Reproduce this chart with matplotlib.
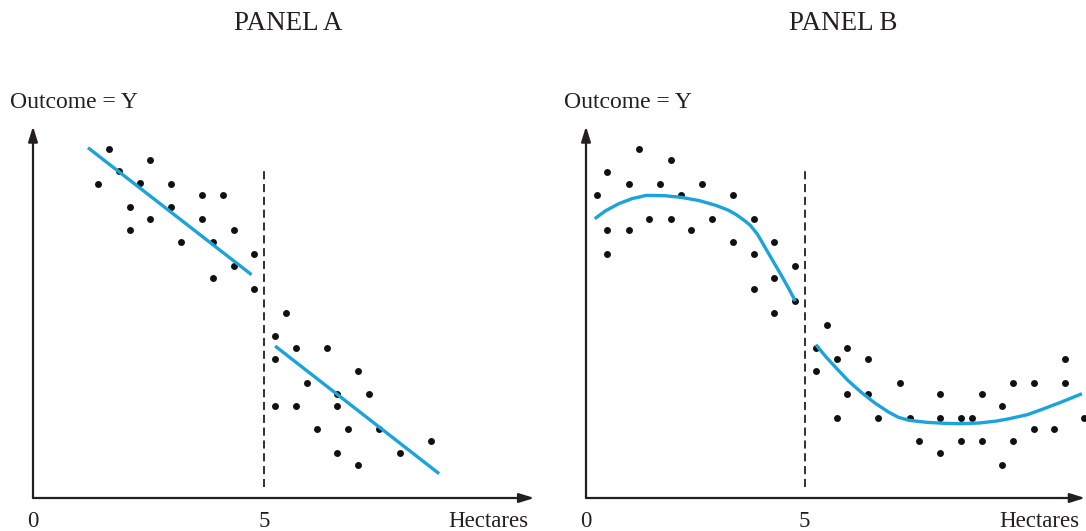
import matplotlib
matplotlib.use("Agg")
import matplotlib.pyplot as plt

plt.rcParams['font.family'] = ['Liberation Serif', 'DejaVu Serif']

# ---------------- data ----------------
titles = ["PANEL A", "PANEL B"]
y_label = "Outcome = Y"
x_label = "Hectares"
x_ticks = [0, 5]
cutoff = 5

# Panel A scatter (left / right of cutoff)
a_left_x = [1.41, 1.64, 1.86, 2.09, 2.09, 2.31, 2.54, 2.54, 2.99, 2.99,
            3.21, 3.66, 3.66, 3.89, 3.89, 4.11, 4.34, 4.34, 4.79, 4.79]
a_left_y = [9.43, 10.48, 9.80, 8.73, 8.03, 9.45, 10.13, 8.38, 9.43, 8.73,
            7.68, 9.08, 8.38, 7.68, 6.61, 9.08, 8.03, 6.96, 7.31, 6.26]
a_right_x = [5.24, 5.47, 5.24, 5.69, 6.37, 5.24, 5.69, 5.92, 6.59, 6.59,
             7.04, 7.27, 6.14, 6.82, 7.49, 6.59, 7.04, 7.94, 8.62]
a_right_y = [4.86, 5.56, 4.16, 4.51, 4.51, 2.76, 2.76, 3.46, 3.11, 2.76,
             3.81, 3.11, 2.06, 2.06, 2.06, 1.36, 1.00, 1.36, 1.71]
# Panel A fitted lines
a_fit_left_x = [1.19, 4.73]
a_fit_left_y = [10.51, 6.70]
a_fit_right_x = [5.24, 8.79]
a_fit_right_y = [4.56, 0.73]

# Panel B scatter
b_left_x = [0.25, 0.49, 0.49, 0.49, 0.99, 0.99, 1.21, 1.45, 1.70, 1.94,
            1.94, 2.18, 2.41, 2.65, 2.89, 3.36, 3.36, 3.85, 3.85, 3.85,
            4.31, 4.31, 4.31, 4.79, 4.79]
b_left_y = [9.08, 9.78, 8.03, 7.31, 9.43, 8.03, 10.48, 8.38, 9.43, 10.13,
            8.38, 9.08, 8.03, 9.43, 8.38, 9.08, 7.68, 8.38, 7.31, 6.26,
            7.68, 6.61, 5.56, 6.96, 5.91]
b_right_x = [5.26, 5.26, 5.51, 5.74, 5.74, 5.97, 5.97, 6.45, 6.45, 6.69,
             7.18, 7.41, 7.63, 8.11, 8.11, 8.11, 8.58, 8.58, 8.84, 9.07,
             9.07, 9.53, 9.53, 9.77, 9.77, 10.25, 10.25, 10.72, 10.96, 10.96,
             11.39]
b_right_y = [4.51, 3.80, 5.18, 4.16, 2.41, 4.51, 3.11, 4.16, 3.11, 2.41,
             3.45, 2.41, 1.71, 3.11, 2.41, 1.35, 2.41, 1.71, 2.41, 3.11,
             1.71, 2.76, 1.00, 3.45, 1.71, 3.45, 2.06, 2.06, 4.16, 3.45,
             2.41]
# Panel B fitted curves
b_fit_left_x = [0.20, 0.45, 0.75, 1.05, 1.38, 1.80, 2.18, 2.60, 2.97, 3.25,
                3.44, 3.62, 3.76, 3.92, 4.07, 4.27, 4.47, 4.64, 4.79]
b_fit_left_y = [8.38, 8.62, 8.83, 8.98, 9.08, 9.07, 9.02, 8.92, 8.78, 8.64,
                8.50, 8.33, 8.18, 7.92, 7.58, 7.13, 6.68, 6.28, 5.91]
b_fit_right_x = [5.26, 5.50, 5.74, 6.00, 6.29, 6.60, 6.92, 7.15, 7.40, 7.80,
                 8.20, 8.58, 9.00, 9.40, 9.69, 10.10, 10.48, 10.90, 11.35]
b_fit_right_y = [4.60, 4.22, 3.88, 3.52, 3.18, 2.86, 2.58, 2.42, 2.33, 2.27,
                 2.24, 2.23, 2.25, 2.31, 2.38, 2.50, 2.68, 2.89, 3.13]

panels = [
    dict(sx=(a_left_x, a_right_x), sy=(a_left_y, a_right_y),
         fx=(a_fit_left_x, a_fit_right_x), fy=(a_fit_left_y, a_fit_right_y)),
    dict(sx=(b_left_x, b_right_x), sy=(b_left_y, b_right_y),
         fx=(b_fit_left_x, b_fit_right_x), fy=(b_fit_left_y, b_fit_right_y)),
]

# ---------------- layout ----------------
W, H = 1086, 531
fig = plt.figure(figsize=(W / 100, H / 100), dpi=100)

origin_px = [(33, 498), (586, 498)]
xscale_px = [46.2, 43.7]      # pixels per hectare
yscale_px = 33.33              # pixels per outcome unit
xmax = [10.85, 11.42]
ymax = 11.15
blue = '#1ba3dd'
ink = '#231f20'

for i, p in enumerate(panels):
    ox, oy = origin_px[i]
    xw, yh = 12.0, 12.0
    ax = fig.add_axes([ox / W, (H - oy) / H, xw * xscale_px[i] / W, yh * yscale_px / H])
    ax.set_xlim(0, xw)
    ax.set_ylim(0, yh)
    ax.axis('off')

    # axes arrows
    arrow = dict(arrowstyle='-|>,head_length=0.9,head_width=0.28', color=ink,
                 lw=1.6, shrinkA=0, shrinkB=0)
    ax.annotate('', xy=(xmax[i], 0), xytext=(0, 0), arrowprops=arrow, annotation_clip=False)
    ax.annotate('', xy=(0, ymax), xytext=(0, 0), arrowprops=arrow, annotation_clip=False)

    # cutoff
    ax.plot([cutoff, cutoff], [0.33, 9.80], ls=(0, (4.5, 2.6)), color=ink, lw=1.3,
            clip_on=False)

    for sx, sy in zip(p['sx'], p['sy']):
        ax.plot(sx, sy, 'o', ms=5.0, color='#111111', mec='none', clip_on=False, zorder=3)
    for fx, fy in zip(p['fx'], p['fy']):
        ax.plot(fx, fy, '-', color=blue, lw=2.4, solid_capstyle='butt',
                solid_joinstyle='round', clip_on=False, zorder=4)

    for t in x_ticks:
        ax.text(t, -0.88, str(t), ha='center', va='baseline', fontsize=16.5, color=ink)
    ax.text(xmax[i] - 0.12, -0.88, x_label, ha='right', va='baseline', fontsize=16.5,
            color=ink)
    ax.text(-0.5, 11.86, y_label, ha='left', va='center', fontsize=17, color=ink)

fig.text(288 / W, 1 - 24 / H, titles[0], ha='center', va='center', fontsize=19.5, color=ink)
fig.text(843 / W, 1 - 24 / H, titles[1], ha='center', va='center', fontsize=19.5, color=ink)

fig.savefig('out.png', dpi=100)
